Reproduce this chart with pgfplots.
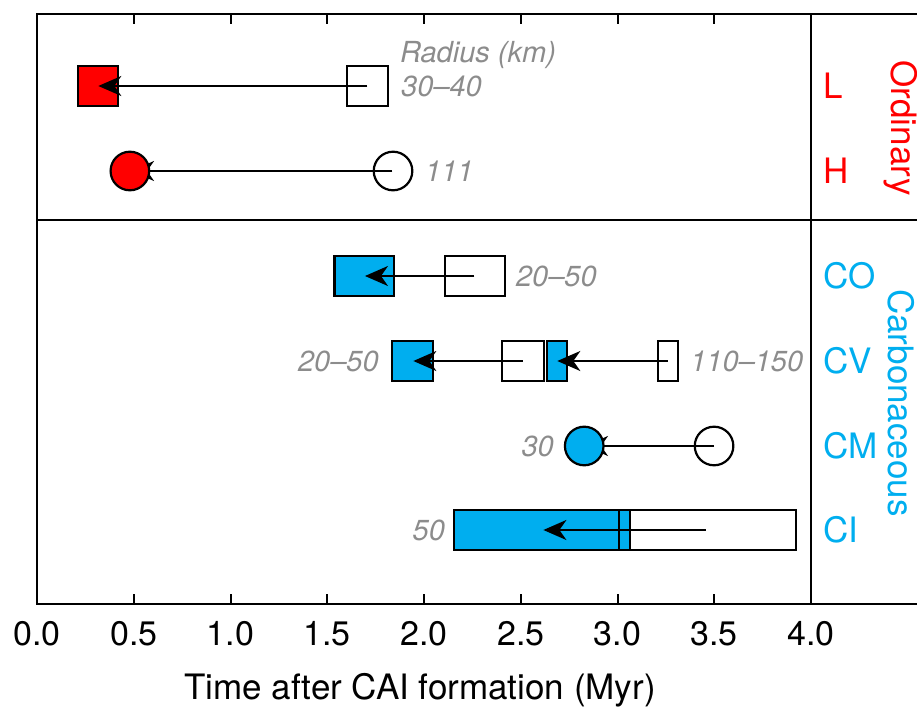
\documentclass[border=0pt]{standalone}
\usepackage{pgfplots}
\pgfplotsset{compat=1.18}
\usetikzlibrary{arrows.meta}
\usepackage{fontspec}
\setmainfont{TeX Gyre Heros}
\definecolor{cred}{RGB}{255,0,0}
\definecolor{cblue}{RGB}{0,174,239}
\definecolor{cgray}{RGB}{140,140,140}
\newcommand{\gfont}{\fontsize{29bp}{34bp}\selectfont\itshape}
\newcommand{\cfont}{\fontsize{35bp}{42bp}\selectfont}
\begin{document}
\begin{tikzpicture}[arr/.style={line width=2bp, -{Stealth[length=23bp, width=20bp, inset=7bp]}}]
\begin{axis}[
  at={(0,0)}, anchor=south west,
  scale only axis, width=903bp, height=590bp,
  xmin=0, xmax=4.6667, ymin=0, ymax=590,
  xtick={0,0.5,1,1.5,2,2.5,3,3.5,4}, ytick=\empty,
  tick align=inside, major tick length=10bp,
  every tick/.style={black, line width=2bp},
  axis line style={line width=2.2bp},
  xticklabel style={font=\fontsize{34bp}{40bp}\selectfont, inner sep=0pt, anchor=north},
  xticklabel shift=17bp,
  x tick label style={/pgf/number format/.cd, fixed, fixed zerofill, precision=1, assume math mode=true},
  xlabel={Time after CAI formation (Myr)},
  xlabel style={font=\fontsize{35bp}{42bp}\selectfont, at={(rel axis cs:0.4241,-0.1627)}, anchor=base, inner sep=0pt},
  clip=false,
]
\coordinate (O) at (axis cs:0,0);
% separators
\addplot[line width=2.2bp] coordinates {(4,0) (4,590)};
\addplot[line width=2.2bp] coordinates {(0,384) (4.6667,384)};
% filled boxes
\addplot[draw=black, line width=2.2bp, fill=cred] coordinates {(0.210,497.7) (0.420,497.7) (0.420,538.3) (0.210,538.3)} -- cycle;
\addplot[draw=black, line width=2.2bp, fill=cblue] coordinates {(1.537,307.7) (1.847,307.7) (1.847,348.3) (1.537,348.3)} -- cycle;
\addplot[draw=black, line width=2.2bp, fill=cblue] coordinates {(1.833,222.7) (2.047,222.7) (2.047,263.3) (1.833,263.3)} -- cycle;
\addplot[draw=black, line width=2.2bp, fill=cblue] coordinates {(2.637,222.7) (2.741,222.7) (2.741,263.3) (2.637,263.3)} -- cycle;
\addplot[draw=black, line width=2.2bp, fill=cblue] coordinates {(2.156,53.7) (3.065,53.7) (3.065,94.3) (2.156,94.3)} -- cycle;
% open boxes
\addplot[draw=black, line width=2.2bp] coordinates {(1.604,497.7) (1.814,497.7) (1.814,538.3) (1.604,538.3)} -- cycle;
\addplot[draw=black, line width=2.2bp] coordinates {(2.107,307.7) (2.417,307.7) (2.417,348.3) (2.107,348.3)} -- cycle;
\addplot[draw=black, line width=2.2bp] coordinates {(2.405,222.7) (2.620,222.7) (2.620,263.3) (2.405,263.3)} -- cycle;
\addplot[draw=black, line width=2.2bp] coordinates {(3.209,222.7) (3.314,222.7) (3.314,263.3) (3.209,263.3)} -- cycle;
\addplot[draw=black, line width=2.2bp] coordinates {(3.006,53.7) (3.921,53.7) (3.921,94.3) (3.006,94.3)} -- cycle;
% circles
\addplot[only marks, mark=*, mark size=19.3bp, mark options={draw=black, fill=cred, line width=2.2bp}] coordinates {(0.480,433)};
\addplot[only marks, mark=*, mark size=19.3bp, mark options={draw=black, fill=cblue, line width=2.2bp}] coordinates {(2.828,158)};
\addplot[only marks, mark=o, mark size=19.3bp, mark options={draw=black, line width=2.2bp}] coordinates {(1.840,433) (3.499,158)};
% arrows
\addplot[arr] coordinates {(1.707,518) (0.317,518)};
\addplot[arr] coordinates {(1.836,433) (0.486,433)};
\addplot[arr] coordinates {(2.260,328) (1.695,328)};
\addplot[arr] coordinates {(2.510,243) (1.945,243)};
\addplot[arr] coordinates {(3.259,243) (2.689,243)};
\addplot[arr] coordinates {(3.499,158) (2.832,158)};
\addplot[arr] coordinates {(3.457,74) (2.617,74)};
% radius labels
\node[anchor=base west, inner sep=0pt, text=cgray, font=\gfont] at (axis cs:1.876,542) {Radius (km)};
\node[anchor=west, inner sep=0pt, text=cgray, font=\gfont] at (axis cs:1.881,518) {30--40};
\node[anchor=west, inner sep=0pt, text=cgray, font=\gfont] at (axis cs:2.005,433) {111};
\node[anchor=west, inner sep=0pt, text=cgray, font=\gfont] at (axis cs:2.475,328) {20--50};
\node[anchor=east, inner sep=0pt, text=cgray, font=\gfont] at (axis cs:1.767,243) {20--50};
\node[anchor=west, inner sep=0pt, text=cgray, font=\gfont] at (axis cs:3.375,243) {110--150};
\node[anchor=east, inner sep=0pt, text=cgray, font=\gfont] at (axis cs:2.672,158) {30};
\node[anchor=east, inner sep=0pt, text=cgray, font=\gfont] at (axis cs:2.109,74) {50};
% category labels
\node[anchor=west, inner sep=0pt, text=cred, font=\cfont] at (axis cs:4.062,518) {L};
\node[anchor=west, inner sep=0pt, text=cred, font=\cfont] at (axis cs:4.062,433) {H};
\node[anchor=west, inner sep=0pt, text=cblue, font=\cfont] at (axis cs:4.062,328) {CO};
\node[anchor=west, inner sep=0pt, text=cblue, font=\cfont] at (axis cs:4.062,243) {CV};
\node[anchor=west, inner sep=0pt, text=cblue, font=\cfont] at (axis cs:4.062,158) {CM};
\node[anchor=west, inner sep=0pt, text=cblue, font=\cfont] at (axis cs:4.062,74) {CI};
\node[rotate=-90, inner sep=0pt, text=cred, font=\cfont] at (axis cs:4.462,476) {Ordinary};
\node[rotate=-90, inner sep=0pt, text=cblue, font=\cfont] at (axis cs:4.465,201) {Carbonaceous};
\end{axis}
\pgfresetboundingbox
\path[use as bounding box] ([shift={(-37bp,-103bp)}]O) rectangle ([shift={(880bp,604bp)}]O);
\end{tikzpicture}
\end{document}
